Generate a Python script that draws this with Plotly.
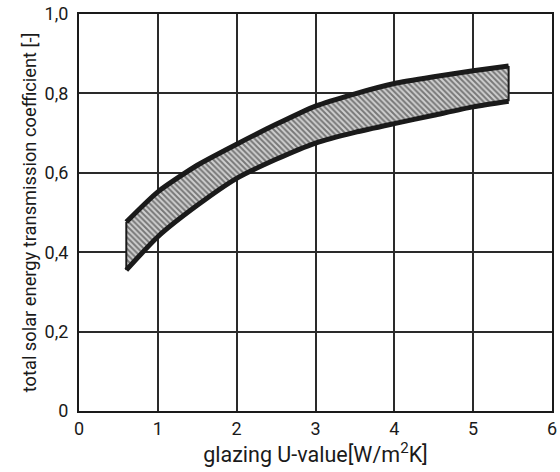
import plotly.graph_objects as go

# Data
u_values = [0.6, 1.0, 1.5, 2.0, 2.5, 3.0, 3.5, 4.0, 4.5, 5.0, 5.45]
g_upper = [0.476, 0.552, 0.619, 0.672, 0.722, 0.768, 0.799, 0.825, 0.842, 0.857, 0.869]
g_lower = [0.355, 0.439, 0.518, 0.586, 0.634, 0.675, 0.702, 0.724, 0.745, 0.766, 0.780]

x_ticks = [0, 1, 2, 3, 4, 5, 6]
x_ticktext = ["0", "1", "2", "3", "4", "5", "6"]
y_ticks = [0, 0.2, 0.4, 0.6, 0.8, 1.0]
y_ticktext = ["0", "0,2", "0,4", "0,6", "0,8", "1,0"]

FONT = "Roboto, Liberation Sans, sans-serif"
INK = "#1a1a1a"

fig = go.Figure()

# lower boundary (thick)
fig.add_trace(go.Scatter(
    x=u_values, y=g_lower, mode="lines",
    line=dict(color=INK, width=5, shape="spline", smoothing=0.6),
    hoverinfo="skip", showlegend=False,
))
# upper boundary (thick) with hatched fill down to the lower curve
fig.add_trace(go.Scatter(
    x=u_values, y=g_upper, mode="lines",
    fill="tonexty",
    fillcolor="rgba(0,0,0,0)",
    fillpattern=dict(shape="\\", size=4, solidity=0.5, fgcolor="#1e1e1e", bgcolor="#d0d0d0"),
    line=dict(color=INK, width=5, shape="spline", smoothing=0.6),
    hoverinfo="skip", showlegend=False,
))
# end edges of the band
fig.add_trace(go.Scatter(
    x=[u_values[0], u_values[0]], y=[g_lower[0], g_upper[0]], mode="lines",
    line=dict(color=INK, width=2), hoverinfo="skip", showlegend=False,
))
fig.add_trace(go.Scatter(
    x=[u_values[-1], u_values[-1]], y=[g_lower[-1], g_upper[-1]], mode="lines",
    line=dict(color=INK, width=2), hoverinfo="skip", showlegend=False,
))

axis_common = dict(
    showgrid=True, gridcolor="#2a2a2a", gridwidth=1.6,
    showline=True, linecolor=INK, linewidth=2, mirror=True,
    zeroline=False, ticks="", automargin=False,
    ticklabeloverflow="allow",
    tickfont=dict(family=FONT, size=18, color=INK),
)

fig.update_layout(
    width=560, height=472,
    margin=dict(l=79, r=8, t=14, b=61),
    paper_bgcolor="white", plot_bgcolor="white",
    font=dict(family=FONT, color=INK),
    hovermode=False,
    xaxis=dict(
        range=[0, 6], tickvals=x_ticks, ticktext=x_ticktext,
        title=dict(text="glazing U-value[W/m<sup>2</sup>K]", font=dict(family=FONT, size=21.5), standoff=4),
        **axis_common,
    ),
    yaxis=dict(
        range=[0, 1.0], tickvals=y_ticks, ticktext=y_ticktext,
        ticklabelstandoff=5,
        title=dict(text="total solar energy transmission coefficient [-]", font=dict(family=FONT, size=18.3), standoff=3),
        **axis_common,
    ),
)

# let the 560x472 figure fill the window exactly (no default page margin)
fig.write_html(
    "out.html",
    config={"displayModeBar": False},
    post_script="document.body.style.margin='0';document.body.style.overflow='hidden';",
)
